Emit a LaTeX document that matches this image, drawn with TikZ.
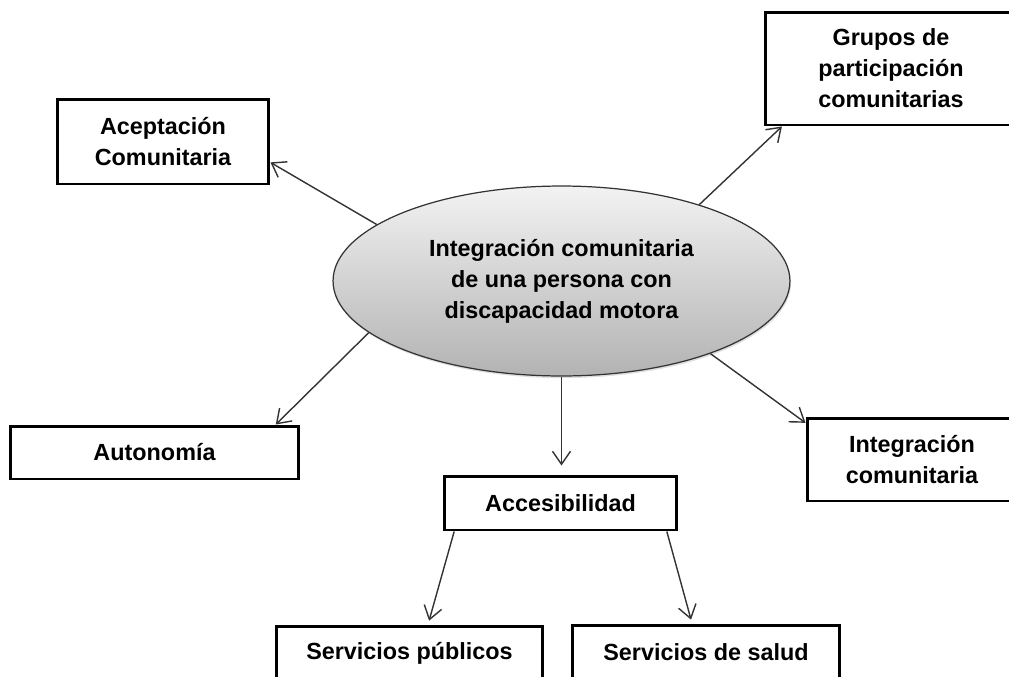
\documentclass[tikz,border=0pt]{standalone}
\usepackage{fontspec}
\setmainfont{Liberation Sans}
\usetikzlibrary{arrows.meta,shapes.geometric,shadows}

\begin{document}
\begin{tikzpicture}[x=0.02cm,y=-0.02cm,
    font=\fontsize{13.3}{17.7}\selectfont\bfseries,
    box/.style={draw,line width=1.7pt,fill=white,align=center,inner sep=0pt},
    idea/.style={ellipse,draw=black!80,line width=0.7pt,top color=black!5,bottom color=black!30,
        drop shadow={opacity=0.25,shadow xshift=0.6pt,shadow yshift=-1.2pt},
        minimum width=9.14cm,minimum height=3.8cm,inner sep=0pt,align=center},
    arr/.style={-{Straight Barb[length=2.6mm,width=3.6mm]},line width=0.8pt,draw=black!80}]
    \useasboundingbox (0,0) rectangle (1009,677);
    % centre
    \node[idea] (ell) at (561.5,281) {Integración comunitaria\\de una persona con\\discapacidad motora};
    % boxes round it
    \node[box,minimum width=4.24cm,minimum height=1.7cm] (acep) at (163,141.5) {Aceptación\\Comunitaria};
    \node[box,minimum width=5.04cm,minimum height=2.26cm] (grp) at (891,68.5) {Grupos de\\participación\\comunitarias};
    \node[box,minimum width=5.78cm,minimum height=1.06cm] (auto) at (154.5,452.5) {Autonomía};
    \node[box,minimum width=4.66cm,minimum height=1.08cm] (acc) at (560.5,503) {Accesibilidad};
    \node[box,minimum width=4.2cm,minimum height=1.66cm] (integ) at (912,459.5) {Integración\\comunitaria};
    \node[box,minimum width=5.34cm,minimum height=1.08cm] (spub) at (409.5,653) {Servicios públicos};
    \node[box,minimum width=5.36cm,minimum height=1.08cm] (ssal) at (706,652) {Servicios de salud};
    % arrows
    \draw[arr] (ell.163) -- (acep.-11);
    \draw[arr] (ell.29) -- (grp.208);
    \draw[arr] (ell.195) -- (auto.13);
    \draw[arr,shorten >=0.18cm] (ell.south) -- (ell.south |- acc.north);
    \draw[arr] (ell.-26) -- (integ.161);
    \draw[arr,shorten >=0.08cm] (acc.195) -- (spub.57);
    \draw[arr,shorten >=0.08cm] (acc.-15) -- (ssal.116);
\end{tikzpicture}
\end{document}
